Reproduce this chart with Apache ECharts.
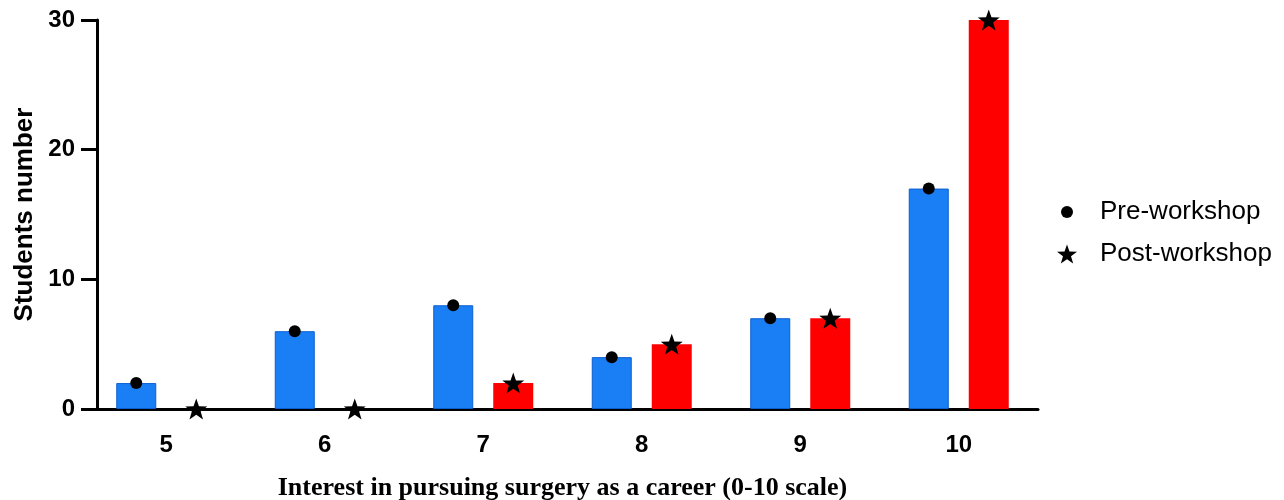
<!DOCTYPE html>
<html>
<head>
<meta charset="utf-8">
<script src="https://cdn.jsdelivr.net/npm/echarts@6/dist/echarts.min.js"></script>
<style>
html,body{margin:0;padding:0;background:#fff;}
#chart{width:1284px;height:500px;}
</style>
</head>
<body>
<div id="chart"></div>
<script>
// 兴趣评分 (0-10)
const scores = ["5", "6", "7", "8", "9", "10"];

// 学生人数
const preWorkshop = [2, 6, 8, 4, 7, 17];
const postWorkshop = [0, 0, 2, 5, 7, 30];

const yTicks = [0, 10, 20, 30];

const starPath = "path://M10 0 L12.35 6.76 L19.51 6.91 L13.8 11.24 L15.88 18.09 L10 14 L4.12 18.09 L6.2 11.24 L0.49 6.91 L7.65 6.76 Z";
const dotPath = "path://M0 0 L0 0 M20 20 L20 20 M10 4 A6 6 0 1 1 10 16 A6 6 0 1 1 10 4 Z";

const chart = echarts.init(document.getElementById("chart"));

const labelFont = {
  color: "#000",
  fontFamily: "Liberation Sans, Arial, sans-serif",
  fontWeight: "bold",
  fontSize: 24
};

const option = {
  backgroundColor: "#fff",
  animation: false,
  grid: {
    left: 87,
    right: 246,
    top: 20,
    bottom: 91,
    outerBoundsMode: "none",
    containLabel: false
  },
  legend: {
    orient: "vertical",
    left: 1052,
    top: 194,
    itemWidth: 20,
    itemHeight: 20,
    itemGap: 16,
    textStyle: {
      color: "#000",
      fontFamily: "Liberation Sans, Arial, sans-serif",
      fontSize: 26,
      padding: [0, 0, 0, 18]
    },
    data: [
      { name: "Pre-workshop", icon: dotPath, itemStyle: { color: "#000", borderWidth: 0 } },
      { name: "Post-workshop", icon: starPath, itemStyle: { color: "#000", borderWidth: 0 } }
    ]
  },
  xAxis: [
    {
      type: "category",
      data: scores,
      axisLine: { lineStyle: { color: "#000", width: 3 } },
      axisTick: {
        alignWithLabel: true,
        length: 14,
        lineStyle: { color: "#000", width: 3 }
      },
      axisLabel: Object.assign({ margin: 24 }, labelFont),
      name: "Interest in pursuing surgery as a career (0-10 scale)",
      nameLocation: "middle",
      nameGap: 66,
      nameTextStyle: {
        color: "#000",
        fontFamily: "Liberation Serif, Times New Roman, serif",
        fontWeight: "bold",
        fontSize: 26
      }
    },
    {
      type: "category",
      data: scores,
      show: false
    }
  ],
  yAxis: {
    type: "value",
    min: yTicks[0],
    max: yTicks[yTicks.length - 1],
    interval: 10,
    offset: -10,
    axisLine: { show: true, lineStyle: { color: "#000", width: 3 } },
    axisTick: { show: true, length: 16, lineStyle: { color: "#000", width: 3 } },
    splitLine: { show: false },
    axisLabel: Object.assign({ margin: 22 }, labelFont),
    name: "Students number",
    nameLocation: "middle",
    nameGap: 57,
    nameTextStyle: {
      color: "#000",
      fontFamily: "Liberation Sans, Arial, sans-serif",
      fontWeight: "bold",
      fontSize: 26
    }
  },
  series: [
    {
      name: "Pre-workshop",
      type: "bar",
      xAxisIndex: 0,
      barWidth: 40,
      barGap: "50%",
      itemStyle: { color: "#1a7ff5", borderColor: "#0a5fd0", borderWidth: 1 },
      data: preWorkshop
    },
    {
      name: "Post-workshop",
      type: "bar",
      xAxisIndex: 0,
      barWidth: 40,
      barGap: "50%",
      itemStyle: { color: "#ff0000", borderWidth: 0 },
      data: postWorkshop
    },
    {
      name: "Pre-workshop",
      type: "pictorialBar",
      xAxisIndex: 1,
      barWidth: 40,
      barGap: "50%",
      symbol: "circle",
      symbolSize: [12, 12],
      symbolPosition: "end",
      symbolOffset: [0, "-50%"],
      itemStyle: { color: "#000" },
      z: 5,
      data: preWorkshop
    },
    {
      name: "Post-workshop",
      type: "pictorialBar",
      xAxisIndex: 1,
      barWidth: 40,
      barGap: "50%",
      symbol: starPath,
      symbolSize: [22, 21],
      symbolPosition: "end",
      symbolOffset: [0, "-50%"],
      itemStyle: { color: "#000" },
      z: 5,
      data: postWorkshop
    }
  ]
};

chart.setOption(option);

window.addEventListener("resize", () => chart.resize());
</script>
</body>
</html>
